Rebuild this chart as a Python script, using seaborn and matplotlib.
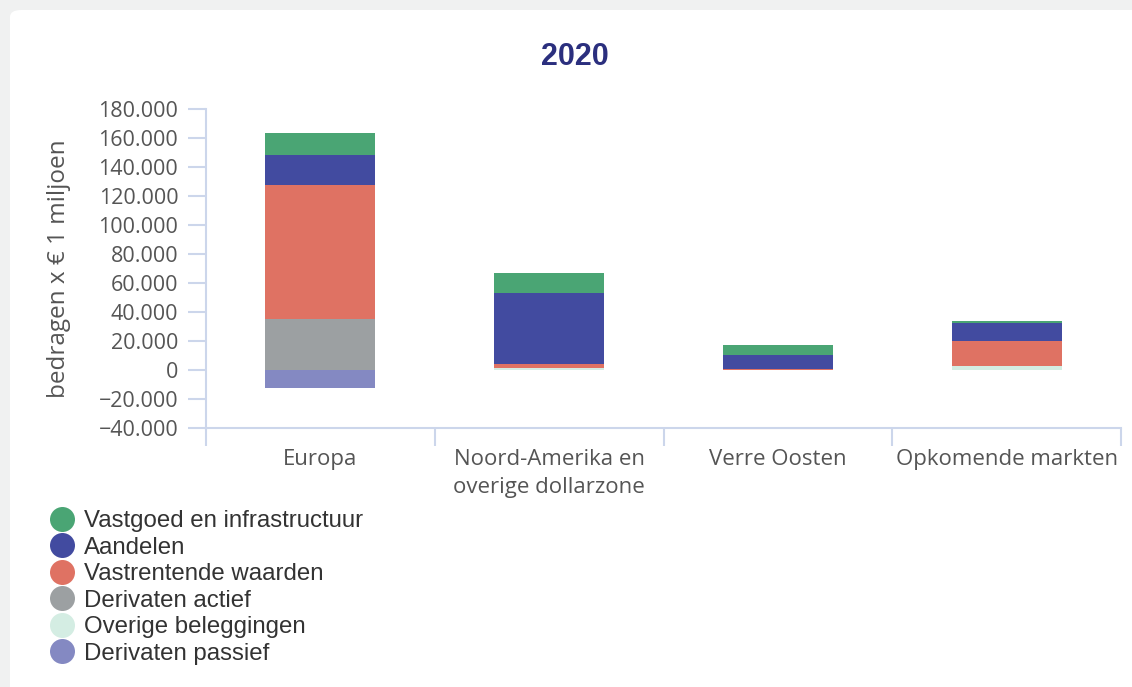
import matplotlib
matplotlib.use("Agg")
import matplotlib.pyplot as plt
from matplotlib.patches import FancyBboxPatch
from matplotlib.lines import Line2D
from matplotlib.ticker import FuncFormatter, FixedLocator
import seaborn as sns
import pandas as pd

categories = ["Europa", "Noord-Amerika en\noverige dollarzone", "Verre Oosten", "Opkomende markten"]
vastgoed = [15200, 13800, 6900, 1400]
aandelen = [20400, 49000, 9800, 12400]
vastrentend = [92100, 2800, 800, 17800]
derivaten_actief = [35500, 0, 0, 0]
overige = [0, 1200, 0, 2500]
derivaten_passief = [-12600, 0, 0, 0]

series_names = ["Vastgoed en infrastructuur", "Aandelen", "Vastrentende waarden",
                "Derivaten actief", "Overige beleggingen", "Derivaten passief"]
series_values = [vastgoed, aandelen, vastrentend, derivaten_actief, overige, derivaten_passief]
colors = ["#4aa574", "#424ba0", "#df7263", "#9ca0a2", "#d4ede3", "#8489c2"]

sns.set_theme(style="white")
plt.rcParams["font.family"] = ["DejaVu Sans"]

fig = plt.figure(figsize=(11.32, 6.87), dpi=100, facecolor="#f0f1f1")
card = FancyBboxPatch((10 / 1132, -0.1), 1.2, 1.1 - 10 / 687,
                      boxstyle="round,pad=0,rounding_size=0.01",
                      transform=fig.transFigure, facecolor="white", edgecolor="none", zorder=-10)
fig.patches.append(card)

ax = fig.add_axes([206 / 1132, 1 - 428 / 687, (1121 - 206) / 1132, (428 - 109) / 687])
ax.set_facecolor("none")

# stacking: positive bottom-up = Overige, Derivaten actief, Vastrentende, Aandelen, Vastgoed
pos_bottom = [0.0] * len(categories)
stack_order = [4, 3, 2, 1, 0]
for i in stack_order:
    vals = series_values[i]
    df = pd.DataFrame({"cat": categories, "val": vals})
    sns.barplot(data=df, x="cat", y="val", order=categories, color=colors[i],
                bottom=pos_bottom, width=0.48, saturation=1, ax=ax, errorbar=None,
                linewidth=0)
    pos_bottom = [b + v for b, v in zip(pos_bottom, vals)]
df = pd.DataFrame({"cat": categories, "val": derivaten_passief})
sns.barplot(data=df, x="cat", y="val", order=categories, color=colors[5],
            width=0.48, saturation=1, ax=ax, errorbar=None, linewidth=0)

ax.set_xlim(-0.5, 3.5)
ax.set_ylim(-40000, 180000)
ax.set_yticks(range(-40000, 180001, 20000))

def fmt(v, pos):
    if v == 0:
        return "0"
    s = f"{abs(v):,.0f}".replace(",", ".")
    return ("\u2212" + s) if v < 0 else s

ax.yaxis.set_major_formatter(FuncFormatter(fmt))
ax.xaxis.set_minor_locator(FixedLocator([-0.5, 0.5, 1.5, 2.5, 3.5]))

axis_col = "#ccd6eb"
for s in ["top", "right"]:
    ax.spines[s].set_visible(False)
for s in ["left", "bottom"]:
    ax.spines[s].set_color(axis_col)
    ax.spines[s].set_linewidth(1.5)

ax.tick_params(axis="y", which="major", direction="out", length=13, width=1.5,
               color=axis_col, labelsize=15.5, labelcolor="#555555", pad=7, left=True)
ax.tick_params(axis="x", which="major", length=0, labelsize=16, labelcolor="#555555", pad=15)
ax.tick_params(axis="x", which="minor", direction="out", length=13, width=1.5,
               color=axis_col, bottom=True)
for lbl in ax.get_xticklabels() + ax.get_yticklabels():
    lbl.set_family(["Open Sans", "DejaVu Sans"])
for lbl in ax.get_xticklabels():
    lbl.set_linespacing(1.45)

ax.set_xlabel("")
ax.set_ylabel("bedragen x \u20ac 1 miljoen", fontsize=17.5, color="#555555",
              family=["Open Sans", "DejaVu Sans"], labelpad=20)

fig.text(575 / 1132, 1 - 57 / 687, "2020", ha="center", va="center", fontsize=22,
         fontweight="bold", color="#2b2f7e", family=["Liberation Sans", "DejaVu Sans"])

handles = [Line2D([0], [0], marker="o", linestyle="none", markersize=18,
                  markerfacecolor=c, markeredgecolor="none") for c in colors]
leg = fig.legend(handles, series_names, loc="upper left",
                 bbox_to_anchor=(48 / 1132, 1 - 510 / 687), frameon=False,
                 prop={"family": ["Liberation Sans", "DejaVu Sans"], "size": 17.3},
                 labelspacing=0.19, handletextpad=0.3, handlelength=1.2,
                 borderaxespad=0, borderpad=0)
for t in leg.get_texts():
    t.set_color("#333333")

fig.savefig("out.png", dpi=100, facecolor=fig.get_facecolor())
